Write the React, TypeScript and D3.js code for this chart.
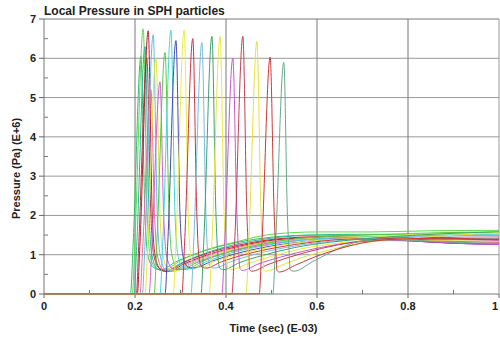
import * as d3 from "d3";

type Pt = [number, number];

// time (E-03 s) vs pressure (E+6 Pa), one array per particle
const p01: Pt[] = [[0, 0], [0.190, 0], [0.196, 1.3], [0.213, 6.05], [0.222, 2.0], [0.228, 1.0], [0.240, 0.68], [0.256, 0.62], [0.29, 0.82], [0.34, 1.05], [0.40, 1.25], [0.48, 1.42], [0.58, 1.50], [0.70, 1.52], [0.85, 1.50], [1, 1.48]];
const p02: Pt[] = [[0, 0], [0.194, 0], [0.200, 1.4], [0.218, 6.75], [0.227, 2.0], [0.233, 1.0], [0.245, 0.66], [0.262, 0.60], [0.30, 0.85], [0.35, 1.10], [0.42, 1.32], [0.50, 1.52], [0.60, 1.58], [0.72, 1.58], [0.85, 1.61], [1, 1.62]];
const p03: Pt[] = [[0, 0], [0.198, 0], [0.204, 1.3], [0.222, 6.3], [0.231, 2.0], [0.237, 1.0], [0.249, 0.64], [0.266, 0.58], [0.30, 0.78], [0.35, 1.02], [0.42, 1.26], [0.50, 1.42], [0.60, 1.50], [0.72, 1.47], [0.85, 1.42], [1, 1.40]];
const p04: Pt[] = [[0, 0], [0.203, 0], [0.208, 1.2], [0.226, 6.0], [0.235, 2.0], [0.241, 1.0], [0.253, 0.66], [0.270, 0.60], [0.31, 0.82], [0.36, 1.04], [0.43, 1.25], [0.51, 1.40], [0.61, 1.46], [0.72, 1.42], [0.85, 1.32], [1, 1.27]];
const p05: Pt[] = [[0, 0], [0.205, 0], [0.211, 1.3], [0.229, 6.7], [0.238, 2.0], [0.244, 1.0], [0.256, 0.62], [0.272, 0.57], [0.31, 0.78], [0.36, 1.0], [0.43, 1.22], [0.51, 1.38], [0.61, 1.44], [0.72, 1.45], [0.85, 1.40], [1, 1.38]];
const p06: Pt[] = [[0, 0], [0.211, 0], [0.217, 1.2], [0.235, 5.2], [0.243, 2.0], [0.249, 1.0], [0.261, 0.63], [0.278, 0.58], [0.32, 0.80], [0.37, 1.02], [0.44, 1.22], [0.52, 1.36], [0.62, 1.42], [0.72, 1.40], [0.85, 1.44], [1, 1.45]];
const p07: Pt[] = [[0, 0], [0.216, 0], [0.222, 1.3], [0.240, 6.6], [0.249, 2.0], [0.255, 1.0], [0.267, 0.62], [0.284, 0.58], [0.32, 0.76], [0.37, 0.98], [0.44, 1.18], [0.52, 1.34], [0.62, 1.42], [0.72, 1.43], [0.85, 1.36], [1, 1.33]];
const p08: Pt[] = [[0, 0], [0.222, 0], [0.228, 1.2], [0.246, 6.0], [0.255, 2.0], [0.261, 1.0], [0.273, 0.64], [0.290, 0.60], [0.33, 0.80], [0.38, 1.02], [0.45, 1.22], [0.53, 1.36], [0.63, 1.44], [0.74, 1.48], [0.86, 1.54], [1, 1.58]];
const p09: Pt[] = [[0, 0], [0.231, 0], [0.237, 1.2], [0.255, 5.4], [0.263, 2.0], [0.269, 1.0], [0.281, 0.66], [0.298, 0.62], [0.34, 0.82], [0.39, 1.02], [0.46, 1.20], [0.54, 1.34], [0.64, 1.42], [0.74, 1.44], [0.86, 1.40], [1, 1.36]];
const p10: Pt[] = [[0, 0], [0.242, 0], [0.248, 1.3], [0.266, 6.15], [0.275, 2.0], [0.281, 1.0], [0.293, 0.66], [0.308, 0.62], [0.35, 0.84], [0.40, 1.05], [0.47, 1.25], [0.55, 1.40], [0.65, 1.48], [0.75, 1.52], [0.87, 1.56], [1, 1.58]];
const p11: Pt[] = [[0, 0], [0.255, 0], [0.261, 1.3], [0.279, 6.72], [0.288, 2.0], [0.294, 1.0], [0.304, 0.70], [0.318, 0.64], [0.36, 0.84], [0.41, 1.04], [0.48, 1.22], [0.56, 1.36], [0.66, 1.44], [0.76, 1.46], [0.88, 1.50], [1, 1.52]];
const p12: Pt[] = [[0, 0], [0.266, 0], [0.272, 1.3], [0.290, 6.45], [0.299, 2.0], [0.305, 1.0], [0.315, 0.70], [0.328, 0.66], [0.37, 0.84], [0.42, 1.02], [0.49, 1.20], [0.57, 1.33], [0.67, 1.40], [0.77, 1.38], [0.88, 1.30], [1, 1.26]];
const p13: Pt[] = [[0, 0], [0.284, 0], [0.290, 1.3], [0.308, 6.72], [0.317, 2.0], [0.322, 1.0], [0.330, 0.72], [0.342, 0.68], [0.38, 0.85], [0.43, 1.02], [0.50, 1.20], [0.58, 1.34], [0.68, 1.42], [0.78, 1.48], [0.90, 1.54], [1, 1.56]];
const p14: Pt[] = [[0, 0], [0.303, 0], [0.309, 1.3], [0.327, 6.5], [0.336, 2.0], [0.340, 1.0], [0.346, 0.70], [0.356, 0.66], [0.39, 0.82], [0.44, 1.00], [0.51, 1.18], [0.59, 1.32], [0.69, 1.40], [0.79, 1.40], [0.90, 1.34], [1, 1.32]];
const p15: Pt[] = [[0, 0], [0.323, 0], [0.329, 1.3], [0.347, 6.4], [0.356, 2.0], [0.360, 1.0], [0.365, 0.70], [0.374, 0.66], [0.41, 0.82], [0.46, 1.00], [0.53, 1.18], [0.61, 1.32], [0.70, 1.40], [0.80, 1.45], [0.90, 1.48], [1, 1.49]];
const p16: Pt[] = [[0, 0], [0.345, 0], [0.351, 1.3], [0.369, 6.56], [0.378, 2.0], [0.382, 1.0], [0.386, 0.66], [0.394, 0.62], [0.43, 0.80], [0.48, 0.98], [0.55, 1.18], [0.63, 1.32], [0.72, 1.42], [0.82, 1.50], [0.91, 1.55], [1, 1.58]];
const p17: Pt[] = [[0, 0], [0.363, 0], [0.369, 1.3], [0.387, 6.56], [0.396, 2.0], [0.400, 1.0], [0.404, 0.66], [0.410, 0.62], [0.45, 0.78], [0.50, 0.96], [0.57, 1.16], [0.65, 1.30], [0.74, 1.38], [0.84, 1.36], [0.92, 1.35], [1, 1.34]];
const p18: Pt[] = [[0, 0], [0.391, 0], [0.397, 1.3], [0.415, 6.0], [0.424, 2.0], [0.428, 1.0], [0.431, 0.64], [0.436, 0.60], [0.47, 0.76], [0.52, 0.94], [0.59, 1.14], [0.67, 1.30], [0.76, 1.36], [0.86, 1.32], [0.93, 1.28], [1, 1.26]];
const p19: Pt[] = [[0, 0], [0.413, 0], [0.419, 1.3], [0.437, 6.56], [0.446, 2.0], [0.450, 1.0], [0.452, 0.62], [0.457, 0.58], [0.49, 0.74], [0.54, 0.94], [0.61, 1.16], [0.68, 1.32], [0.77, 1.42], [0.87, 1.44], [0.94, 1.40], [1, 1.38]];
const p20: Pt[] = [[0, 0], [0.444, 0], [0.450, 1.3], [0.468, 6.43], [0.477, 2.0], [0.481, 1.0], [0.483, 0.62], [0.488, 0.58], [0.52, 0.72], [0.56, 0.90], [0.62, 1.10], [0.69, 1.28], [0.78, 1.40], [0.88, 1.48], [0.95, 1.53], [1, 1.55]];
const p21: Pt[] = [[0, 0], [0.503, 0], [0.509, 1.3], [0.527, 5.9], [0.535, 2.0], [0.539, 1.0], [0.541, 0.62], [0.549, 0.58], [0.59, 0.82], [0.63, 1.06], [0.67, 1.26], [0.70, 1.35], [0.78, 1.38], [0.88, 1.33], [0.95, 1.30], [1, 1.28]];
const p22: Pt[] = [[0, 0], [0.473, 0], [0.479, 1.3], [0.497, 6.03], [0.506, 2.0], [0.510, 1.0], [0.512, 0.60], [0.517, 0.56], [0.55, 0.72], [0.59, 0.92], [0.64, 1.12], [0.70, 1.30], [0.78, 1.40], [0.88, 1.42], [0.95, 1.40], [1, 1.40]];

const particles = [p01, p02, p03, p04, p05, p06, p07, p08, p09, p10, p11, p12, p13, p14, p15, p16, p17, p18, p19, p20, p21, p22];
const colors = [
  "#2fbf6f", "#5fd84a", "#26b8a8", "#d03040", "#b02035", "#e070a0", "#66bbdd", "#e4e43c",
  "#d060d0", "#55cc44", "#40d8d8", "#4848b0", "#ecec40", "#cc3344", "#77bbdd", "#3fa070",
  "#e8e840", "#cc55cc", "#c04050", "#e6e040", "#66aa88", "#cc3838",
];

const xTicks = [0, 0.2, 0.4, 0.6, 0.8, 1];
const xMinor = [0.1, 0.3, 0.5, 0.7, 0.9];
const yTicks = [0, 1, 2, 3, 4, 5, 6, 7];
const yMinor = [0.5, 1.5, 2.5, 3.5, 4.5, 5.5, 6.5];

const W = 500;
const H = 338;
const left = 44;
const right = 499;
const top = 19;
const bottom = 294;
const font = "'Liberation Sans', Arial, sans-serif";

export default function App() {
  const x = d3.scaleLinear().domain([0, 1]).range([left, right]);
  const y = d3.scaleLinear().domain([0, 7]).range([bottom, top]);
  const line = d3
    .line<Pt>()
    .x((d) => x(d[0]))
    .y((d) => y(d[1]))
    .curve(d3.curveMonotoneX);

  return (
    <svg
      width={W}
      height={H}
      viewBox={`0 0 ${W} ${H}`}
      style={{ position: "absolute", left: 0, top: 0, background: "#fff" }}
      fontFamily={font}
    >
      <defs>
        <clipPath id="plot">
          <rect x={left} y={top - 1} width={right - left} height={bottom - top + 1.5} />
        </clipPath>
      </defs>

      {/* grid */}
      {yTicks.slice(1, -1).map((t) => (
        <line key={`gy${t}`} x1={left} x2={right} y1={y(t)} y2={y(t)} stroke="#999" strokeWidth={1} />
      ))}
      {xTicks.slice(1, -1).map((t) => (
        <line key={`gx${t}`} x1={x(t)} x2={x(t)} y1={top} y2={bottom} stroke="#777" strokeWidth={1} />
      ))}

      {/* frame */}
      <line x1={left} x2={right} y1={top} y2={top} stroke="#777" />
      <line x1={right} x2={right} y1={top} y2={bottom} stroke="#999" />
      <line x1={left} x2={right} y1={bottom} y2={bottom} stroke="#777" />
      <line x1={left} x2={left} y1={top} y2={bottom} stroke="#777" />

      {/* ticks */}
      {yTicks.map((t) => (
        <g key={`ty${t}`}>
          <line x1={left - 5} x2={left} y1={y(t)} y2={y(t)} stroke="#666" />
          <text x={left - 8} y={y(t) + 4} textAnchor="end" fontSize={11} fontWeight="bold" fill="#222">
            {t}
          </text>
        </g>
      ))}
      {yMinor.map((t) => (
        <line key={`my${t}`} x1={left} x2={left + 4} y1={y(t)} y2={y(t)} stroke="#777" />
      ))}
      {xTicks.map((t) => (
        <g key={`tx${t}`}>
          <line x1={x(t)} x2={x(t)} y1={bottom} y2={bottom + 4} stroke="#666" />
          <text
            x={Math.min(x(t), W - 5)}
            y={bottom + 16}
            textAnchor="middle"
            fontSize={11}
            fontWeight="bold"
            fill="#222"
          >
            {t}
          </text>
        </g>
      ))}
      {xMinor.map((t) => (
        <line key={`mx${t}`} x1={x(t)} x2={x(t)} y1={bottom} y2={bottom - 4} stroke="#777" />
      ))}

      {/* series */}
      <g clipPath="url(#plot)">
        {particles.map((p, i) => (
          <path key={i} d={line(p) ?? ""} fill="none" stroke={colors[i]} strokeWidth={1} />
        ))}
      </g>

      <text x={left} y={15} fontSize={12} fontWeight="bold" fill="#222">
        Local Pressure in SPH particles
      </text>
      <text
        transform={`translate(20, ${(top + bottom) / 2 + 12}) rotate(-90)`}
        textAnchor="middle"
        fontSize={11}
        fontWeight="bold"
        fill="#222"
      >
        Pressure (Pa) (E+6)
      </text>
      <text x={(left + right) / 2 + 2} y={332} textAnchor="middle" fontSize={11} fontWeight="bold" fill="#222">
        Time (sec) (E-03)
      </text>
    </svg>
  );
}
